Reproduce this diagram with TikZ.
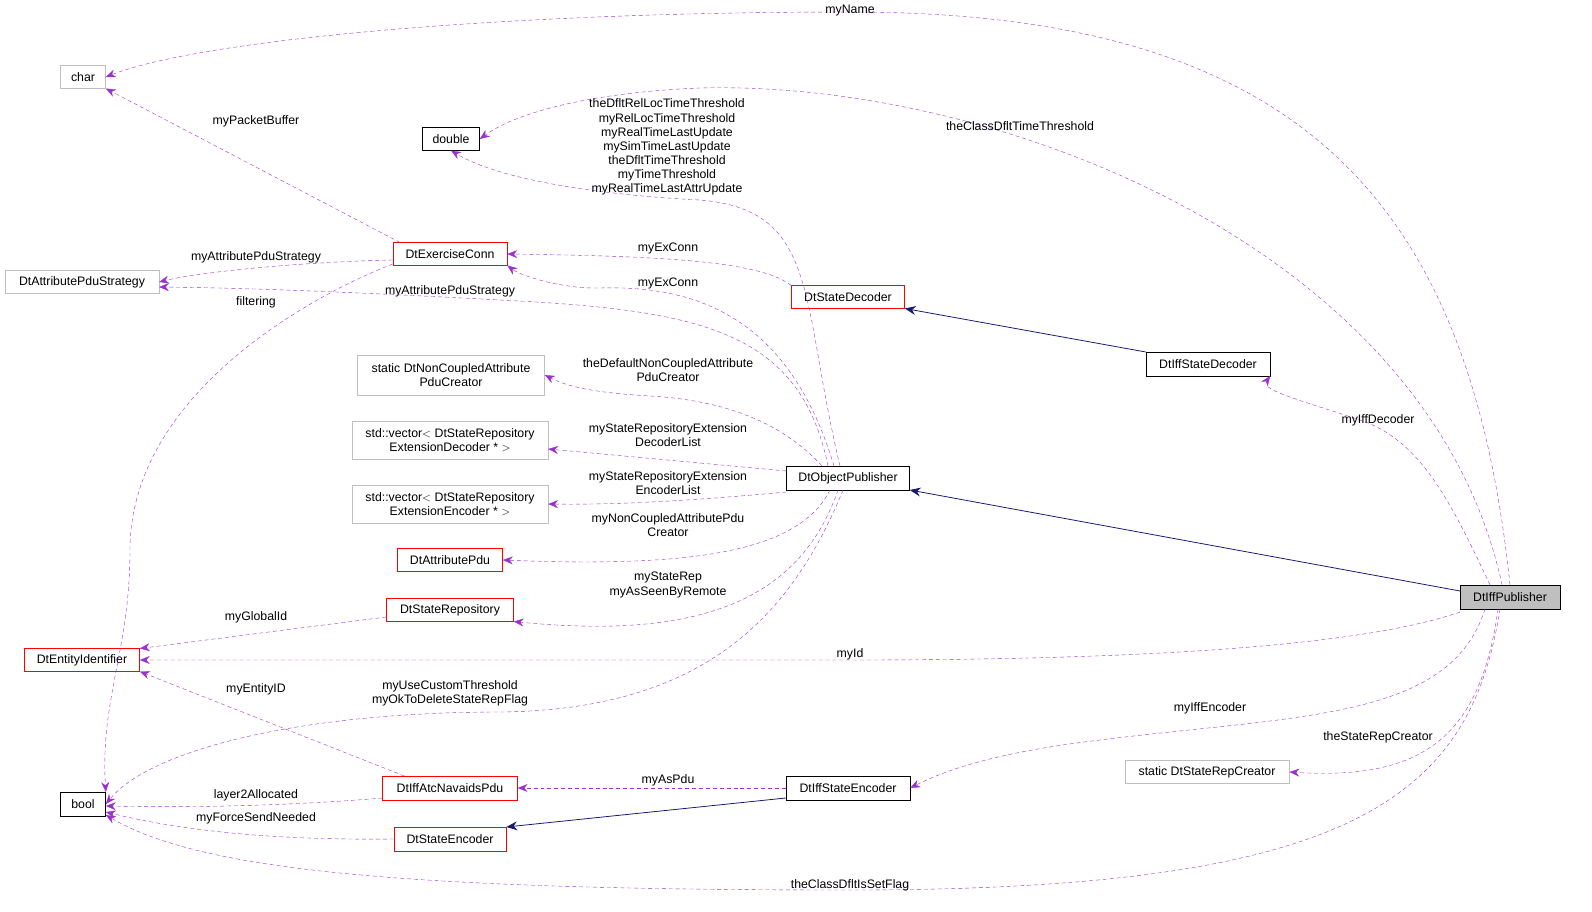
\documentclass[tikz,border=0pt]{standalone}
\usepackage{fontspec}
\setmainfont{Liberation Sans}
\usetikzlibrary{arrows.meta}
\definecolor{mem}{RGB}{153,50,204}
\definecolor{inh}{RGB}{25,25,112}
\definecolor{gb}{RGB}{191,191,191}
\begin{document}
\begin{tikzpicture}[x=1.0154pt,y=-1.0154pt,font=\fontsize{12.5}{14.3}\selectfont,
 box/.style={draw,fill=white,inner sep=0pt,minimum height=23pt,align=center},
 bbox/.style={box,draw=black},
 rbox/.style={box,draw=red},
 gbox/.style={box,draw=gb},
 me/.style={draw=mem,dashed,dash pattern=on 4pt off 3pt,-{Stealth[length=10pt,width=8pt,fill=mem]}},
 inhl/.style={draw=inh,line width=0.8pt,-{Stealth[length=11pt,width=9pt,fill=inh]}},
 lb/.style={inner sep=0pt,align=center,font=\fontsize{12.5}{14.3}\selectfont}]
\useasboundingbox (0,0) rectangle (1592,912);
\node[gbox,minimum width=46pt] (char) at (83,77) {char};
\node[bbox,minimum width=58pt] (double) at (451,139) {double};
\node[rbox,minimum width=116pt] (exc) at (450,254) {DtExerciseConn};
\node[gbox,minimum width=156pt] (aps) at (82,282) {DtAttributePduStrategy};
\node[rbox,minimum width=115pt] (sdec) at (848,297) {DtStateDecoder};
\node[gbox,minimum width=190pt,minimum height=40pt] (nca) at (451,375) {static DtNonCoupledAttribute\\PduCreator};
\node[gbox,minimum width=199pt,minimum height=39pt] (vdec) at (450,440) {std::vector$<$ DtStateRepository\\ExtensionDecoder * $>$};
\node[bbox,minimum width=125pt,minimum height=24pt] (op) at (848,478) {DtObjectPublisher};
\node[gbox,minimum width=199pt,minimum height=38pt] (venc) at (450,504) {std::vector$<$ DtStateRepository\\ExtensionEncoder * $>$};
\node[bbox,minimum width=126pt,minimum height=24pt] (isd) at (1208,364) {DtIffStateDecoder};
\node[rbox,minimum width=107pt] (apdu) at (450,560) {DtAttributePdu};
\node[rbox,minimum width=129pt] (srep) at (450,610) {DtStateRepository};
\node[rbox,minimum width=117pt] (eid) at (82,660) {DtEntityIdentifier};
\node[box,draw=black,fill=gb,minimum width=101pt,minimum height=24pt] (pub) at (1510,597) {DtIffPublisher};
\node[rbox,minimum width=137pt,minimum height=24pt] (atc) at (450,788) {DtIffAtcNavaidsPdu};
\node[bbox,minimum width=126pt,minimum height=24pt] (ise) at (848,788) {DtIffStateEncoder};
\node[gbox,minimum width=167pt] (src) at (1207,772) {static DtStateRepCreator};
\node[bbox,minimum width=46pt,minimum height=24pt] (bool) at (83,804) {bool};
\node[rbox,minimum width=114pt,minimum height=24pt] (senc) at (450,839) {DtStateEncoder};
% inheritance
\draw[inhl] (isd.north west) -- (sdec.south east);
\path (pub.west) ++(0,-6) coordinate (p1);
\draw[inhl] (p1) -- (op.south east);
\path (ise.west) ++(0,10) coordinate (e1);
\draw[inhl] (e1) -- (senc.north east);
% members
\draw[me] (pub.north) .. controls (1470,200) and (1300,12) .. (850,12) .. controls (500,12) and (200,40) .. (char.east);
\node[lb] (l1) at (850,11) {myName};
\path (pub.north) ++(-8,0) coordinate (p0);
\draw[me] (p0) .. controls (1430,250) and (1000,80) .. (700,88) .. controls (600,92) and (520,110) .. (double.east);
\node[lb] (l2) at (1020,126) {theClassDfltTimeThreshold};
\path (op.north) ++(-8,0) coordinate (o1);
\draw[me] (o1) .. controls (800,300) and (820,210) .. (700,200) .. controls (600,195) and (500,180) .. (double.south);
\node[lb] (l3) at (667,147) {theDfltRelLocTimeThreshold\\myRelLocTimeThreshold\\myRealTimeLastUpdate\\mySimTimeLastUpdate\\theDfltTimeThreshold\\myTimeThreshold\\myRealTimeLastAttrUpdate};
\path (exc.north) ++(-50,0) coordinate (x1);
\draw[me] (x1) -- (char.south east);
\node[lb] (l4) at (256,121) {myPacketBuffer};
\draw[me] (sdec.north west) .. controls (760,260) and (650,256) .. (exc.east);
\node[lb] (l5) at (668,248) {myExConn};
\path (op.north) ++(-14,0) coordinate (o2);
\draw[me] (o2) .. controls (790,320) and (700,285) .. (600,288) .. controls (560,289) and (520,275) .. (exc.south east);
\node[lb] (l6) at (668,283) {myExConn};
\path (exc.west) ++(0,6) coordinate (x2);
\draw[me] (x2) .. controls (300,262) and (200,272) .. (aps.east);
\node[lb] (l7) at (256,257) {myAttributePduStrategy};
\path (op.north) ++(-20,0) coordinate (o3);
\path (aps.east) ++(0,5) coordinate (a0);
\draw[me] (o3) .. controls (800,330) and (700,310) .. (500,300) .. controls (350,292) and (250,288) .. (a0);
\node[lb] (l8) at (450,291) {myAttributePduStrategy};
\path (exc.west) ++(0,10) coordinate (x3);
\draw[me] (x3) .. controls (300,300) and (130,400) .. (130,550) .. controls (130,650) and (100,700) .. (bool.north east);
\node[lb] (l9) at (256,302) {filtering};
\path (op.north) ++(-26,0) coordinate (o4);
\draw[me] (o4) .. controls (780,420) and (720,400) .. (650,396) .. controls (600,393) and (570,388) .. (nca.east);
\node[lb] (l10) at (668,370) {theDefaultNonCoupledAttribute\\PduCreator};
\path (op.west) ++(0,-7) coordinate (o5);
\path (vdec.east) ++(0,9) coordinate (v1);
\draw[me] (o5) -- (v1);
\node[lb] (l11) at (668,435) {myStateRepositoryExtension\\DecoderList};
\path (op.west) ++(0,14) coordinate (o6);
\draw[me] (o6) .. controls (700,500) and (620,505) .. (venc.east);
\node[lb] (l12) at (668,483) {myStateRepositoryExtension\\EncoderList};
\path (op.south) ++(-18,0) coordinate (o7);
\draw[me] (o7) .. controls (800,550) and (700,568) .. (apdu.east);
\node[lb] (l13) at (668,525) {myNonCoupledAttributePdu\\Creator};
\path (op.south) ++(-10,0) coordinate (o8);
\draw[me] (o8) .. controls (800,600) and (700,640) .. (srep.south east);
\node[lb] (l14) at (668,585) {myStateRep\\myAsSeenByRemote};
\path (op.south) ++(-5,0) coordinate (o9);
\draw[me] (o9) .. controls (790,620) and (700,710) .. (500,712) .. controls (300,712) and (150,750) .. (bool.east);
\node[lb] (l15) at (450,693) {myUseCustomThreshold\\myOkToDeleteStateRepFlag};
\path (srep.west) ++(0,7) coordinate (r1);
\draw[me] (r1) -- (eid.north east);
\node[lb] (l16) at (256,617) {myGlobalId};
\path (pub.south west) ++(0,3) coordinate (p2);
\draw[me] (p2) .. controls (1350,650) and (1100,660) .. (850,660) -- (eid.east);
\node[lb] (l17) at (850,654) {myId};
\path (atc.north west) ++(22,0) coordinate (a1);
\draw[me] (a1) -- (eid.south east);
\node[lb] (l18) at (256,689) {myEntityID};
\path (atc.west) ++(0,10) coordinate (a2);
\path (bool.east) ++(0,2) coordinate (b1);
\draw[me] (a2) .. controls (300,805) and (200,808) .. (b1);
\node[lb] (l19) at (256,795) {layer2Allocated};
\draw[me] (ise.west) -- (atc.east);
\node[lb] (l20) at (668,780) {myAsPdu};
\path (bool.east) ++(0,8) coordinate (b2);
\draw[me] (senc.west) .. controls (300,840) and (200,835) .. (b2);
\node[lb] (l21) at (256,818) {myForceSendNeeded};
\path (pub.south) ++(-10,0) coordinate (p3);
\path (bool.east) ++(0,11) coordinate (b3);
\draw[me] (p3) .. controls (1470,800) and (1350,890) .. (850,890) .. controls (400,890) and (200,870) .. (b3);
\node[lb] (l22) at (850,885) {theClassDfltIsSetFlag};
\path (pub.south) ++(-25,0) coordinate (p4);
\draw[me] (p4) .. controls (1450,720) and (1300,715) .. (1100,740) .. controls (1000,752) and (950,768) .. (ise.east);
\node[lb] (l23) at (1210,708) {myIffEncoder};
\path (pub.south) ++(-12,0) coordinate (p5);
\draw[me] (p5) .. controls (1480,740) and (1420,780) .. (src.east);
\node[lb] (l24) at (1378,737) {theStateRepCreator};
\path (pub.north) ++(-20,0) coordinate (p6);
\draw[me] (p6) .. controls (1450,500) and (1420,440) .. (1360,420) .. controls (1300,400) and (1260,390) .. (isd.south east);
\node[lb] (l25) at (1378,420) {myIffDecoder};
\end{tikzpicture}
\end{document}
